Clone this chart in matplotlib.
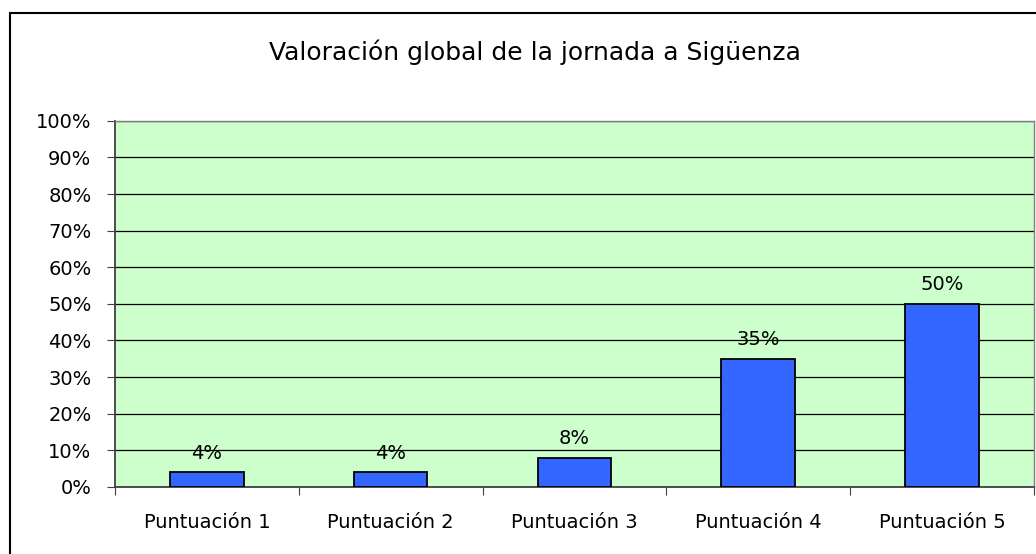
import matplotlib.pyplot as plt
from matplotlib.patches import Rectangle
from matplotlib.ticker import PercentFormatter

# Puntuaciones de la jornada
categorias = ['Puntuación 1', 'Puntuación 2', 'Puntuación 3', 'Puntuación 4', 'Puntuación 5']
porcentajes = [4, 4, 8, 35, 50]
marcas_y = list(range(0, 101, 10))

plt.rcParams['font.family'] = ['DejaVu Sans']

fig = plt.figure(figsize=(10.36, 5.54), dpi=100)
ax = fig.add_axes([0.111, 0.121, 0.887, 0.661])

# marco exterior del gráfico
fig.patches.append(Rectangle((10 / 1036, -0.1), 1.2, 1 - 13 / 554 + 0.1,
                             transform=fig.transFigure, fill=False,
                             edgecolor='black', linewidth=1.5))

ax.set_facecolor('#ccffcc')
x = range(len(categorias))
barras = ax.bar(x, porcentajes, width=0.40, color='#3366ff',
                edgecolor='black', linewidth=1.3, zorder=3)
for xi, v in zip(x, porcentajes):
    ax.text(xi, v + 2.6, f'{v}%', ha='center', va='bottom', fontsize=14, zorder=4)

ax.set_xlim(-0.5, len(categorias) - 0.5)
ax.set_ylim(0, 100)
ax.set_yticks(marcas_y)
ax.yaxis.set_major_formatter(PercentFormatter(decimals=0))
ax.yaxis.grid(True, color='black', linewidth=0.9)
ax.set_axisbelow(True)

ax.set_xticks([i - 0.5 for i in range(len(categorias) + 1)], minor=False)
ax.set_xticklabels([])
ax.set_xticks(list(x), minor=True)
ax.set_xticklabels(categorias, minor=True, fontsize=14)
ax.tick_params(axis='x', which='minor', length=0, pad=19)
ax.tick_params(axis='x', which='major', length=6, color='#404040', direction='out')
ax.tick_params(axis='y', length=6, color='#404040', labelsize=14, pad=11)

for lado in ['left', 'bottom']:
    ax.spines[lado].set_color('#404040')
    ax.spines[lado].set_linewidth(1.3)
for lado in ['top', 'right']:
    ax.spines[lado].set_color('#808080')
    ax.spines[lado].set_linewidth(1.0)

fig.text(0.516, 1 - 52 / 554, 'Valoración global de la jornada a Sigüenza',
         ha='center', va='center', fontsize=18)

fig.savefig('out.png', dpi=100)
